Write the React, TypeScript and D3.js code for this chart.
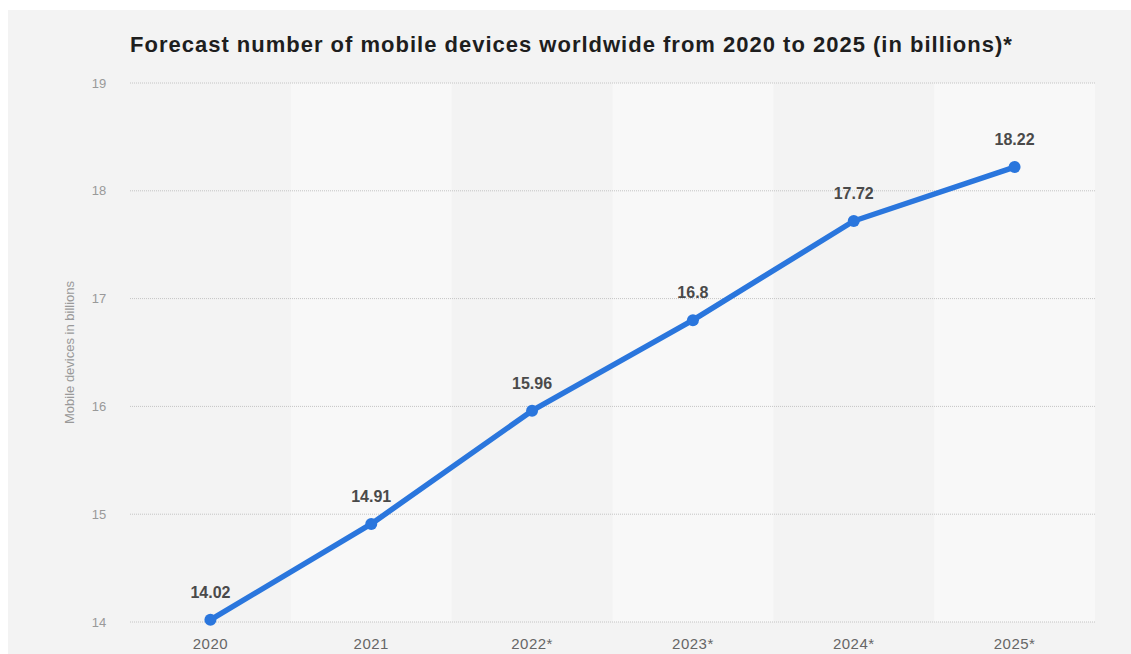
import { useEffect, useRef } from "react";
import * as d3 from "d3";

const W = 1131;
const H = 654;

const years = ["2020", "2021", "2022*", "2023*", "2024*", "2025*"];
const devices = [14.02, 14.91, 15.96, 16.8, 17.72, 18.22];
const yTicks = [14, 15, 16, 17, 18, 19];

const TITLE = "Forecast number of mobile devices worldwide from 2020 to 2025 (in billions)*";
const Y_LABEL = "Mobile devices in billions";

const margin = { left: 130, right: 36, top: 83, bottom: 32 };
const FONT = "'Liberation Sans', Arial, Helvetica, sans-serif";

export default function App() {
  const svgRef = useRef<SVGSVGElement>(null);

  useEffect(() => {
    const svg = d3.select(svgRef.current);
    svg.selectAll("*").remove();

    const x = d3
      .scaleBand()
      .domain(years)
      .range([margin.left, W - margin.right]);
    const y = d3
      .scaleLinear()
      .domain([14, 19])
      .range([H - margin.bottom, margin.top]);

    // page + panel background
    svg.append("rect").attr("width", W).attr("height", H).attr("fill", "#fff");
    svg
      .append("rect")
      .attr("x", 8)
      .attr("y", 10)
      .attr("width", W - 8)
      .attr("height", H - 10)
      .attr("fill", "#f3f3f3");

    // alternating column bands
    svg
      .append("g")
      .selectAll("rect")
      .data(years.filter((_, i) => i % 2 === 1))
      .join("rect")
      .attr("x", (d) => x(d)!)
      .attr("y", y(19))
      .attr("width", x.bandwidth())
      .attr("height", y(14) - y(19))
      .attr("fill", "#f8f8f8");

    // grid lines
    svg
      .append("g")
      .selectAll("line")
      .data(yTicks)
      .join("line")
      .attr("x1", margin.left)
      .attr("x2", W - margin.right)
      .attr("y1", (d) => y(d))
      .attr("y2", (d) => y(d))
      .attr("stroke", "#c4c4c4")
      .attr("stroke-width", 1)
      .attr("stroke-dasharray", "1,1");

    // y tick labels
    svg
      .append("g")
      .selectAll("text")
      .data(yTicks)
      .join("text")
      .attr("x", 99)
      .attr("y", (d) => y(d))
      .attr("dy", "0.35em")
      .attr("text-anchor", "middle")
      .attr("font-family", FONT)
      .attr("font-size", 13)
      .attr("fill", "#999")
      .text((d) => d);

    // x tick labels
    svg
      .append("g")
      .selectAll("text")
      .data(years)
      .join("text")
      .attr("x", (d) => x(d)! + x.bandwidth() / 2)
      .attr("y", 649)
      .attr("text-anchor", "middle")
      .attr("font-family", FONT)
      .attr("font-size", 15)
      .attr("letter-spacing", 0.5)
      .attr("fill", "#666")
      .text((d) => d);

    // y axis title
    svg
      .append("text")
      .attr("transform", `translate(74,${(y(14) + y(19)) / 2}) rotate(-90)`)
      .attr("text-anchor", "middle")
      .attr("font-family", FONT)
      .attr("font-size", 13)
      .attr("fill", "#999")
      .text(Y_LABEL);

    // title
    svg
      .append("text")
      .attr("x", 130)
      .attr("y", 52)
      .attr("font-family", FONT)
      .attr("font-size", 22)
      .attr("letter-spacing", 1)
      .attr("font-weight", "bold")
      .attr("fill", "#1e1e1e")
      .text(TITLE);

    const cx = (i: number) => x(years[i])! + x.bandwidth() / 2;

    const line = d3
      .line<number>()
      .x((_, i) => cx(i))
      .y((d) => y(d));

    svg
      .append("path")
      .datum(devices)
      .attr("d", line)
      .attr("fill", "none")
      .attr("stroke", "#2a76dd")
      .attr("stroke-width", 5.5)
      .attr("stroke-linejoin", "round");

    svg
      .append("g")
      .selectAll("circle")
      .data(devices)
      .join("circle")
      .attr("cx", (_, i) => cx(i))
      .attr("cy", (d) => y(d))
      .attr("r", 6)
      .attr("fill", "#2a76dd");

    svg
      .append("g")
      .selectAll("text")
      .data(devices)
      .join("text")
      .attr("x", (_, i) => cx(i))
      .attr("y", (d) => y(d) - 22)
      .attr("text-anchor", "middle")
      .attr("font-family", FONT)
      .attr("font-size", 16)
      .attr("font-weight", "bold")
      .attr("fill", "#4a4a4a")
      .text((d) => d);
  }, []);

  return (
    <svg
      ref={svgRef}
      width={W}
      height={H}
      style={{ position: "absolute", left: 0, top: 0 }}
    />
  );
}
